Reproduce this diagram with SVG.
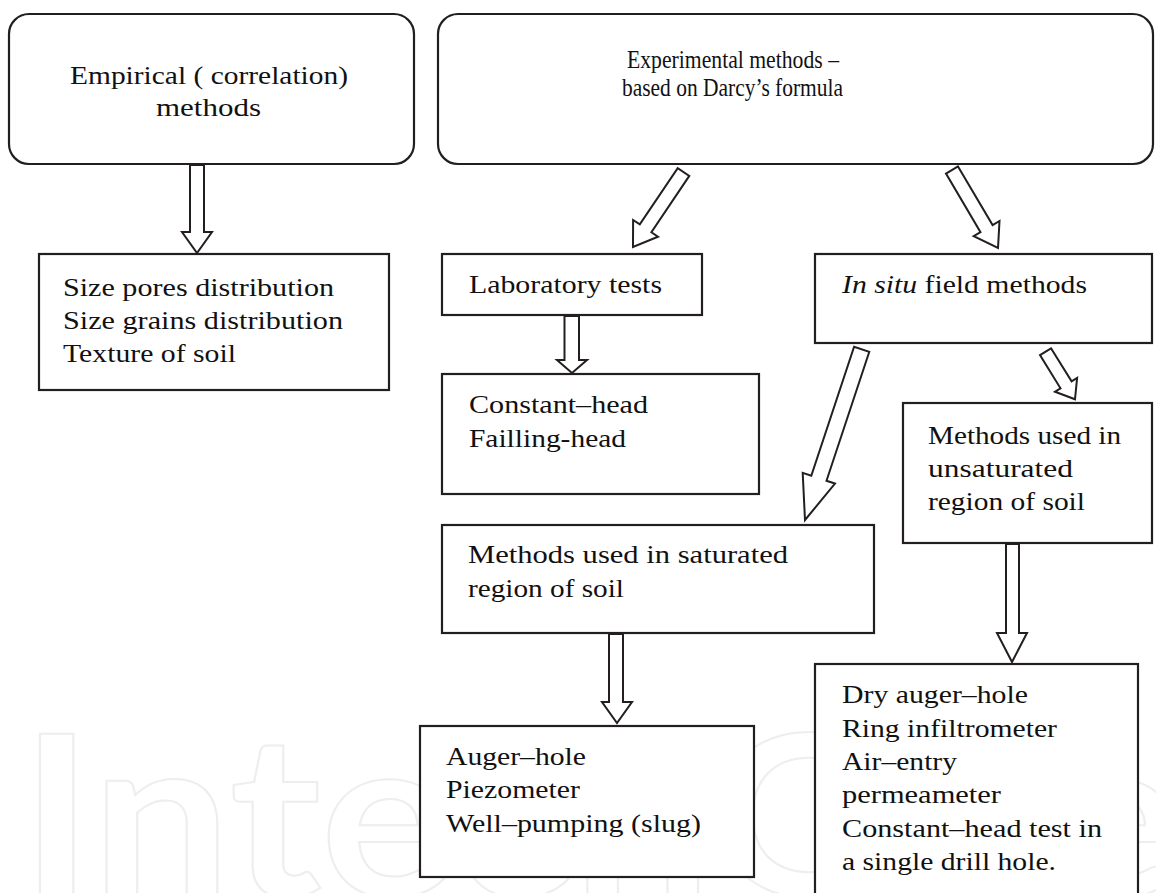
<svg xmlns="http://www.w3.org/2000/svg" width="1156" height="893" viewBox="0 0 1156 893">
<style>
.box{fill:#fff;stroke:#231f20;stroke-width:2.2}
.arr{fill:#fff;stroke:#231f20;stroke-width:2;stroke-linejoin:miter}
.t{font-family:"Liberation Serif","Times New Roman",serif;font-size:25px;fill:#111}
.wm{font-family:Lato,"Open Sans",sans-serif;font-weight:bold;font-size:225px;fill:none;stroke:#eeeeee;stroke-width:2}
</style>
<rect width="1156" height="893" fill="#fff"/>
<text class="wm" x="20" y="896" textLength="1300" lengthAdjust="spacingAndGlyphs">IntechOpen</text>

<g id="empirical">
<rect class="box" x="9" y="14" width="405" height="150" rx="20"/>
<text class="t" x="70" y="84" textLength="278" lengthAdjust="spacingAndGlyphs">Empirical ( correlation)</text>
<text class="t" x="156" y="116" textLength="105" lengthAdjust="spacingAndGlyphs">methods</text>
</g>
<g id="experimental">
<rect class="box" x="438" y="14" width="715" height="150" rx="20"/>
<text class="t" x="627" y="68" textLength="212" lengthAdjust="spacingAndGlyphs">Experimental methods –</text>
<text class="t" x="622" y="96" textLength="221" lengthAdjust="spacingAndGlyphs">based on Darcy’s formula</text>
</g>
<g id="size">
<rect class="box" x="39" y="254" width="350" height="136"/>
<text class="t" x="63" y="296" textLength="271" lengthAdjust="spacingAndGlyphs">Size pores distribution</text>
<text class="t" x="63" y="329" textLength="280" lengthAdjust="spacingAndGlyphs">Size grains distribution</text>
<text class="t" x="63" y="362" textLength="173" lengthAdjust="spacingAndGlyphs">Texture of soil</text>
</g>
<g id="laboratory">
<rect class="box" x="442" y="254" width="260" height="61"/>
<text class="t" x="469" y="293" textLength="193" lengthAdjust="spacingAndGlyphs">Laboratory tests</text>
</g>
<g id="constant">
<rect class="box" x="442" y="374" width="317" height="120"/>
<text class="t" x="469" y="413" textLength="179" lengthAdjust="spacingAndGlyphs">Constant–head</text>
<text class="t" x="469" y="447" textLength="157" lengthAdjust="spacingAndGlyphs">Failling-head</text>
</g>
<g id="insitu">
<rect class="box" x="815" y="254" width="337" height="89"/>
<text class="t" x="842" y="293" textLength="245" lengthAdjust="spacingAndGlyphs"><tspan font-style="italic">In situ</tspan> field methods</text>
</g>
<g id="unsaturated">
<rect class="box" x="903" y="403" width="249" height="140"/>
<text class="t" x="928" y="444" textLength="193" lengthAdjust="spacingAndGlyphs">Methods used in</text>
<text class="t" x="928" y="477" textLength="145" lengthAdjust="spacingAndGlyphs">unsaturated</text>
<text class="t" x="928" y="510" textLength="157" lengthAdjust="spacingAndGlyphs">region of soil</text>
</g>
<g id="saturated">
<rect class="box" x="442" y="525" width="432" height="108"/>
<text class="t" x="468" y="563" textLength="320" lengthAdjust="spacingAndGlyphs">Methods used in saturated</text>
<text class="t" x="468" y="597" textLength="156" lengthAdjust="spacingAndGlyphs">region of soil</text>
</g>
<g id="auger">
<rect class="box" x="420" y="726" width="334" height="151"/>
<text class="t" x="446" y="765" textLength="140" lengthAdjust="spacingAndGlyphs">Auger–hole</text>
<text class="t" x="446" y="798" textLength="134" lengthAdjust="spacingAndGlyphs">Piezometer</text>
<text class="t" x="446" y="832" textLength="255" lengthAdjust="spacingAndGlyphs">Well–pumping (slug)</text>
</g>
<g id="dry">
<rect class="box" x="815" y="664" width="323" height="240"/>
<text class="t" x="842" y="703" textLength="186" lengthAdjust="spacingAndGlyphs">Dry auger–hole</text>
<text class="t" x="842" y="737" textLength="215" lengthAdjust="spacingAndGlyphs">Ring infiltrometer</text>
<text class="t" x="842" y="770" textLength="115" lengthAdjust="spacingAndGlyphs">Air–entry</text>
<text class="t" x="842" y="803" textLength="159" lengthAdjust="spacingAndGlyphs">permeameter</text>
<text class="t" x="842" y="837" textLength="260" lengthAdjust="spacingAndGlyphs">Constant–head test in</text>
<text class="t" x="842" y="870" textLength="214" lengthAdjust="spacingAndGlyphs">a single drill hole.</text>
</g>

<g id="connectors">
<polygon class="arr" points="190,165 190,232 182,232 197,253 212,232 204,232 204,165"/>
<polygon class="arr" points="689.3,175.9 651.4,232.3 658,236.7 633,247 633.1,220 639.8,224.4 677.7,168.1"/>
<polygon class="arr" points="958,166.4 992.6,225.1 999.5,221 998,248 973.7,236.2 980.5,232.2 946,173.6"/>
<polygon class="arr" points="564.5,316 564.5,360 557,360 572,373 587,360 579,360 579,316"/>
<polygon class="arr" points="869.3,351.8 826.5,480.8 835,483.6 805,520 802.7,472.9 811.3,475.7 854.1,346.8"/>
<polygon class="arr" points="1051,348.3 1071.6,381.4 1077.1,378 1075,399.3 1055,391.7 1060.5,388.3 1040,355.1"/>
<polygon class="arr" points="609,634 609,702 602,702 617,723 632,702 623,702 623,634"/>
<polygon class="arr" points="1006,544 1006,633 997,633 1012,662 1027,633 1019,633 1019,544"/>
</g>
</svg>
